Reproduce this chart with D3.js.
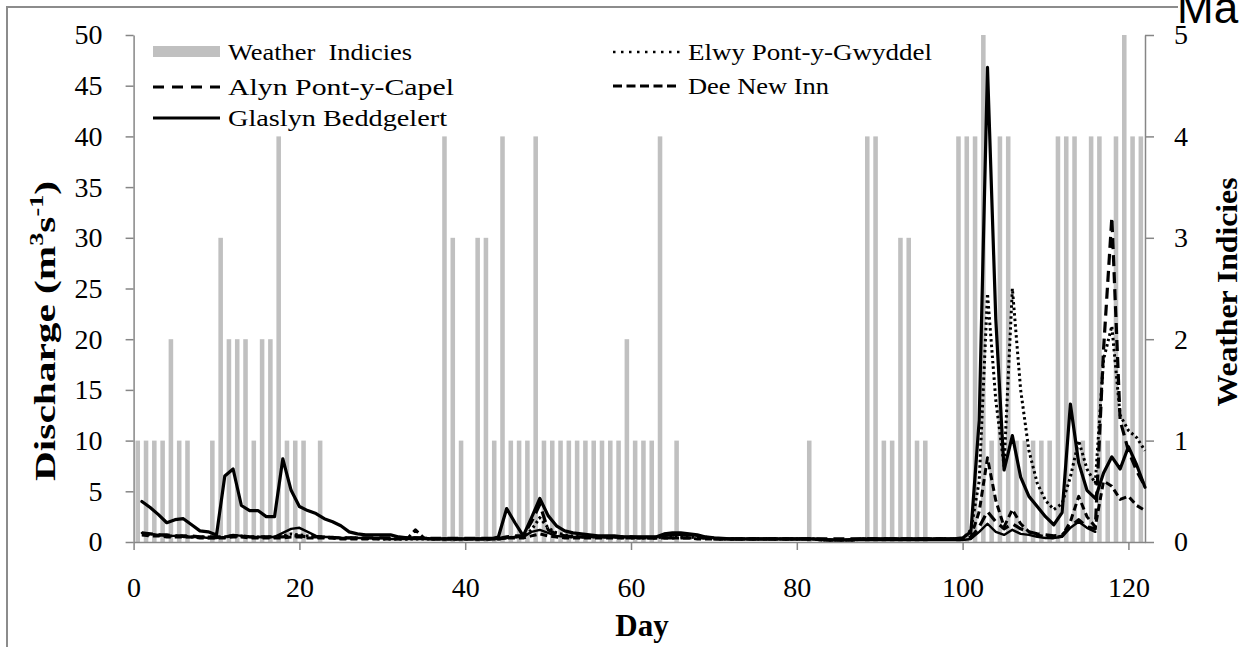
<!DOCTYPE html>
<html>
<head>
<meta charset="utf-8">
<script src="https://cdn.jsdelivr.net/npm/d3@7"></script>
<style>
  body { margin: 0; background: #fff; }
  svg { display: block; }
  .axis path, .axis line { stroke: #868686; stroke-width: 1.5; }
</style>
</head>
<body>
<svg id="chart"></svg>
<script>
var SERIF = "'Liberation Serif', 'DejaVu Serif', serif";

// day index, 1..122
var days = d3.range(1, 123);

// weather index per day (right axis, 0-5)
var weather = [
  1, 1, 1, 1, 2, 1, 1, 0, 0, 1,
  3, 2, 2, 2, 1, 2, 2, 4, 1, 1,
  1, 0, 1, 0, 0, 0, 0, 0, 0, 0,
  0, 0, 0, 0, 0, 0, 0, 4, 3, 1,
  0, 3, 3, 1, 4, 1, 1, 1, 4, 1,
  1, 1, 1, 1, 1, 1, 1, 1, 1, 2,
  1, 1, 1, 4, 0, 1, 0, 0, 0, 0,
  0, 0, 0, 0, 0, 0, 0, 0, 0, 0,
  0, 1, 0, 0, 0, 0, 0, 0, 4, 4,
  1, 1, 3, 3, 1, 1, 0, 0, 0, 4,
  4, 4, 5, 1, 4, 4, 1, 1, 1, 1,
  1, 4, 4, 4, 1, 4, 4, 1, 4, 5,
  4, 4
];

// discharge (m3 s-1)
var elwy = [
  0.8, 0.7, 0.7, 0.6, 0.6, 0.6, 0.5, 0.5, 0.5, 0.4,
  0.5, 0.6, 0.6, 0.5, 0.5, 0.5, 0.5, 0.6, 0.8, 0.7,
  0.6, 0.5, 0.5, 0.4, 0.4, 0.4, 0.4, 0.35, 0.35, 0.3,
  0.3, 0.3, 0.3, 0.3, 0.3, 0.3, 0.3, 0.3, 0.3, 0.3,
  0.3, 0.3, 0.3, 0.3, 0.4, 0.5, 0.5, 1.2, 2.4, 1.4,
  0.9, 0.7, 0.6, 0.5, 0.5, 0.5, 0.5, 0.5, 0.4, 0.4,
  0.4, 0.4, 0.4, 0.5, 0.5, 0.5, 0.5, 0.4, 0.4, 0.3,
  0.3, 0.3, 0.3, 0.3, 0.3, 0.3, 0.3, 0.3, 0.3, 0.3,
  0.3, 0.3, 0.2, 0.2, 0.2, 0.2, 0.2, 0.3, 0.3, 0.3,
  0.3, 0.3, 0.3, 0.3, 0.3, 0.3, 0.3, 0.3, 0.3, 0.3,
  1.2, 6.0, 24.5, 14.0, 7.5, 25.0, 15.0, 9.0, 5.8, 4.1,
  3.2, 3.8, 6.4, 10.0, 7.2, 5.8, 18.0, 21.3, 12.5, 11.0,
  10.3, 9.0
];
var alyn = [
  0.9, 0.8, 0.7, 0.7, 0.6, 0.6, 0.6, 0.5, 0.5, 0.5,
  0.5, 0.6, 0.6, 0.5, 0.5, 0.5, 0.5, 0.5, 0.6, 0.6,
  0.5, 0.5, 0.5, 0.4, 0.4, 0.4, 0.4, 0.4, 0.4, 0.4,
  0.4, 0.4, 0.4, 0.4, 0.4, 0.35, 0.35, 0.35, 0.35, 0.35,
  0.35, 0.35, 0.35, 0.35, 0.5, 0.6, 0.6, 2.0, 3.7, 1.2,
  0.8, 0.6, 0.5, 0.5, 0.5, 0.5, 0.5, 0.5, 0.5, 0.5,
  0.4, 0.4, 0.4, 0.4, 0.4, 0.4, 0.4, 0.4, 0.4, 0.3,
  0.3, 0.3, 0.3, 0.3, 0.3, 0.3, 0.3, 0.3, 0.3, 0.3,
  0.3, 0.3, 0.3, 0.3, 0.3, 0.3, 0.3, 0.3, 0.3, 0.3,
  0.3, 0.3, 0.3, 0.3, 0.3, 0.3, 0.3, 0.3, 0.3, 0.3,
  0.4, 1.5, 3.0, 2.0, 1.3, 1.8, 1.3, 1.0, 0.8, 0.7,
  0.6, 0.7, 1.5, 2.2, 1.5, 1.3, 19.0, 32.0, 12.0, 9.0,
  7.0, 5.5
];
var dee = [
  0.7, 0.6, 0.6, 0.5, 0.5, 0.5, 0.5, 0.4, 0.4, 0.4,
  0.4, 0.5, 0.5, 0.4, 0.4, 0.4, 0.4, 0.4, 0.5, 0.5,
  0.4, 0.4, 0.4, 0.4, 0.3, 0.3, 0.3, 0.3, 0.3, 0.3,
  0.3, 0.3, 0.3, 1.2, 0.4, 0.3, 0.3, 0.3, 0.3, 0.3,
  0.3, 0.3, 0.3, 0.3, 0.4, 0.4, 0.4, 0.6, 0.8, 0.6,
  0.5, 0.4, 0.4, 0.4, 0.4, 0.4, 0.4, 0.4, 0.4, 0.4,
  0.4, 0.4, 0.4, 0.4, 0.4, 0.4, 0.4, 0.3, 0.3, 0.3,
  0.3, 0.3, 0.3, 0.3, 0.3, 0.3, 0.3, 0.3, 0.3, 0.3,
  0.3, 0.3, 0.2, 0.2, 0.2, 0.2, 0.2, 0.3, 0.3, 0.3,
  0.3, 0.3, 0.3, 0.3, 0.3, 0.3, 0.3, 0.3, 0.3, 0.3,
  0.5, 3.0, 8.3, 4.1, 1.5, 3.2, 1.8, 1.0, 0.7, 0.5,
  0.4, 0.6, 2.0, 4.5, 2.5, 1.5, 6.0, 5.5, 4.2, 4.5,
  3.6, 3.1
];
var glaslyn = [
  4.0, 3.4, 2.7, 1.9, 2.2, 2.3, 1.7, 1.1, 1.0, 0.7,
  6.5, 7.2, 3.6, 3.1, 3.1, 2.5, 2.5, 8.2, 5.1, 3.5,
  3.1, 2.8, 2.3, 2.0, 1.6, 1.0, 0.8, 0.7, 0.7, 0.7,
  0.7, 0.5, 0.4, 0.4, 0.35, 0.3, 0.3, 0.3, 0.3, 0.3,
  0.3, 0.3, 0.3, 0.5, 3.3, 1.9, 0.6, 2.4, 4.3, 2.6,
  1.6, 1.1, 0.9, 0.8, 0.7, 0.6, 0.6, 0.6, 0.5, 0.5,
  0.5, 0.5, 0.5, 0.8, 0.9, 0.9, 0.8, 0.7, 0.5, 0.4,
  0.35, 0.3, 0.3, 0.3, 0.3, 0.3, 0.3, 0.3, 0.3, 0.3,
  0.3, 0.3, 0.25, 0.2, 0.2, 0.2, 0.25, 0.3, 0.3, 0.3,
  0.3, 0.3, 0.3, 0.3, 0.3, 0.3, 0.3, 0.3, 0.3, 0.4,
  1.0, 12.0, 46.8, 22.0, 7.1, 10.5, 6.4, 4.5, 3.5, 2.5,
  1.7, 2.9, 13.6, 7.8, 5.1, 4.3, 6.8, 8.4, 7.2, 9.4,
  7.6, 5.4
];
// thin solid series with no legend entry, ends at day 116
var unlabelled = [
  0.9, 0.8, 0.7, 0.6, 0.6, 0.5, 0.5, 0.5, 0.4, 0.4,
  0.5, 0.7, 0.6, 0.5, 0.5, 0.5, 0.5, 0.9, 1.3, 1.4,
  1.0, 0.6, 0.5, 0.5, 0.4, 0.4, 0.4, 0.4, 0.4, 0.4,
  0.3, 0.3, 0.3, 0.3, 0.3, 0.3, 0.3, 0.3, 0.3, 0.3,
  0.3, 0.3, 0.3, 0.3, 0.4, 0.5, 0.5, 1.0, 1.2, 0.9,
  0.6, 0.5, 0.5, 0.5, 0.5, 0.5, 0.5, 0.5, 0.5, 0.5,
  0.5, 0.5, 0.5, 0.6, 0.7, 0.7, 0.7, 0.6, 0.5, 0.4,
  0.3, 0.3, 0.3, 0.3, 0.3, 0.3, 0.3, 0.3, 0.3, 0.3,
  0.3, 0.3, 0.2, 0.2, 0.2, 0.2, 0.2, 0.2, 0.2, 0.2,
  0.2, 0.2, 0.2, 0.2, 0.2, 0.2, 0.2, 0.2, 0.2, 0.2,
  0.3, 1.0, 1.8, 1.0, 0.7, 1.2, 0.8, 0.7, 0.5, 0.4,
  0.4, 0.5, 1.4, 2.0, 1.4, 1.0, null, null, null, null,
  null, null
];

var xTicks = [0, 20, 40, 60, 80, 100, 120];
var yTicks = [0, 5, 10, 15, 20, 25, 30, 35, 40, 45, 50];
var y2Ticks = [0, 1, 2, 3, 4, 5];

var screen = { width: 1242, height: 647 };
var margins = { top: 35, bottom: 105, left: 133.6, right: 97 };
var graph = {
  width: screen.width - margins.left - margins.right,
  height: screen.height - margins.top - margins.bottom
};

var svg = d3.select("#chart").attr("width", screen.width).attr("height", screen.height);

// outer frame (runs past the picture's edges)
svg.append("path")
  .attr("d", "M7,660 L7,7 L1178,7")
  .attr("fill", "none")
  .attr("stroke", "#8c8c8c")
  .attr("stroke-width", 2);

var xScale = d3.scaleLinear().domain([0, 122]).range([0, graph.width]);
var barScale = d3.scaleBand().domain(days).range([0, graph.width])
  .paddingInner(0.45).paddingOuter(0.225);
var yScale = d3.scaleLinear().domain([0, 50]).range([graph.height, 0]);
var y2Scale = d3.scaleLinear().domain([0, 5]).range([graph.height, 0]);

var g = svg.append("g")
  .attr("transform", "translate(" + margins.left + "," + margins.top + ")");

// bars
g.append("g").selectAll("rect")
  .data(days)
  .enter()
  .append("rect")
  .attr("x", function (d) { return barScale(d); })
  .attr("width", barScale.bandwidth())
  .attr("y", function (d, i) { return y2Scale(weather[i]); })
  .attr("height", function (d, i) { return graph.height - y2Scale(weather[i]); })
  .attr("fill", "#c0c0c0");

// axes
var styleAxis = function (sel) {
  sel.attr("font-family", SERIF);
  sel.selectAll("text")
    .attr("font-family", SERIF)
    .style("font-family", SERIF)
    .style("font-weight", "400")
    .style("font-size", "28px")
    .attr("fill", "#000");
};

g.append("g").attr("class", "axis")
  .attr("transform", "translate(0," + graph.height + ")")
  .call(d3.axisBottom(xScale).tickValues(xTicks).tickSize(8).tickPadding(27).tickSizeOuter(0))
  .call(styleAxis);
g.append("g").attr("class", "axis")
  .call(d3.axisLeft(yScale).tickValues(yTicks).tickSize(8).tickPadding(23).tickSizeOuter(0))
  .call(styleAxis);
g.append("g").attr("class", "axis")
  .attr("transform", "translate(" + graph.width + ",0)")
  .call(d3.axisRight(y2Scale).tickValues(y2Ticks).tickFormat(d3.format("d"))
    .tickSize(9).tickPadding(20).tickSizeOuter(0))
  .call(styleAxis);

// lines
var series = [
  { values: elwy, width: 3, dash: "2.5,3", cap: "butt" },
  { values: dee, width: 3, dash: "7,4", cap: "butt" },
  { values: alyn, width: 3.2, dash: "11,6", cap: "butt" },
  { values: unlabelled, width: 2.4, dash: null, cap: "round" },
  { values: glaslyn, width: 3.2, dash: null, cap: "round" }
];

var line = d3.line()
  .defined(function (d) { return d.v !== null; })
  .x(function (d) { return xScale(d.day); })
  .y(function (d) { return yScale(d.v); });

series.forEach(function (s) {
  var pts = days.map(function (d, i) { return { day: d, v: s.values[i] }; });
  g.append("path")
    .datum(pts)
    .attr("d", line)
    .attr("fill", "none")
    .attr("stroke", "#000")
    .attr("stroke-width", s.width)
    .attr("stroke-linejoin", "round")
    .attr("stroke-linecap", s.cap)
    .attr("stroke-dasharray", s.dash);
});

// legend
var legendNames = ["Weather  Indicies", "Elwy Pont-y-Gwyddel", "Alyn Pont-y-Capel",
  "Dee New Inn", "Glaslyn Beddgelert"];
var legendWidths = [184, 244, 226, 141, 219];
var legendPos = [[153, 52], [613, 52], [153, 87], [613, 86], [153, 118]];
var legendDash = [null, "2.5,5.5", "11,8", "9,4.5", null];

var legend = svg.append("g").classed("legend", true);
legendNames.forEach(function (name, i) {
  var p = legendPos[i];
  if (i === 0) {
    legend.append("rect").attr("x", p[0]).attr("y", p[1] - 6).attr("width", 67).attr("height", 11)
      .attr("fill", "#c0c0c0");
  } else {
    legend.append("line")
      .attr("x1", p[0]).attr("x2", p[0] + 67).attr("y1", p[1]).attr("y2", p[1])
      .attr("stroke", "#000")
      .attr("stroke-width", i === 1 ? 2.6 : 3.2)
      .attr("stroke-dasharray", legendDash[i]);
  }
  legend.append("text")
    .attr("x", p[0] + 75)
    .attr("y", p[1] + 8)
    .attr("font-family", SERIF)
    .style("font-family", SERIF)
    .style("font-weight", "400")
    .style("font-size", "24px")
    .style("white-space", "pre")
    .attr("textLength", legendWidths[i])
    .attr("lengthAdjust", "spacingAndGlyphs")
    .text(name);
});

// axis titles
var yTitle = svg.append("text")
  .attr("transform", "translate(55,331) rotate(-90)")
  .attr("text-anchor", "middle")
  .style("font-family", SERIF)
  .style("font-size", "30px")
  .style("font-weight", "bold");
yTitle.append("tspan").text("Discharge (m");
yTitle.append("tspan").style("font-size", "19px").attr("dy", -12).text("3");
yTitle.append("tspan").attr("dy", 12).text("s");
yTitle.append("tspan").style("font-size", "19px").attr("dy", -12).text("-1");
yTitle.append("tspan").attr("dy", 12).text(")");
yTitle.attr("textLength", 300).attr("lengthAdjust", "spacingAndGlyphs");

svg.append("text")
  .attr("transform", "translate(1237,292) rotate(-90)")
  .attr("text-anchor", "middle")
  .style("font-family", SERIF)
  .style("font-size", "30px")
  .style("font-weight", "bold")
  .attr("textLength", 229)
  .attr("lengthAdjust", "spacingAndGlyphs")
  .text("Weather Indicies");

svg.append("text")
  .attr("x", 642)
  .attr("y", 636)
  .attr("text-anchor", "middle")
  .style("font-family", SERIF)
  .style("font-size", "31px")
  .style("font-weight", "bold")
  .text("Day");

// stray heading cut off by the top edge
svg.append("text")
  .attr("x", 1177)
  .attr("y", 23)
  .style("font-family", "'Liberation Sans', Arial, sans-serif")
  .style("font-size", "44px")
  .text("Ma");
</script>
</body>
</html>
